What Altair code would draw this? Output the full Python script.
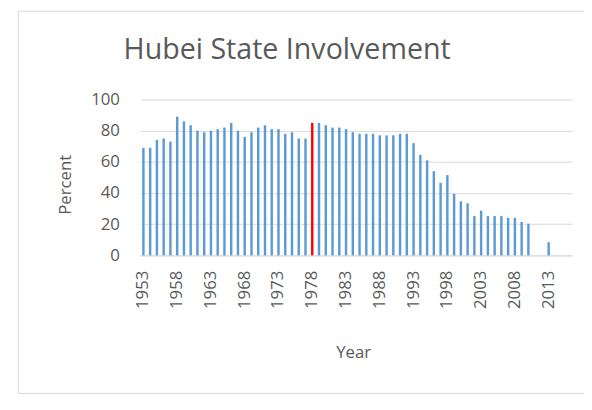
import altair as alt
import pandas as pd

years = [1953, 1954, 1955, 1956, 1957, 1958, 1959, 1960, 1961, 1962,
         1963, 1964, 1965, 1966, 1967, 1968, 1969, 1970, 1971, 1972,
         1973, 1974, 1975, 1976, 1977, 1978, 1979, 1980, 1981, 1982,
         1983, 1984, 1985, 1986, 1987, 1988, 1989, 1990, 1991, 1992,
         1993, 1994, 1995, 1996, 1997, 1998, 1999, 2000, 2001, 2002,
         2003, 2004, 2005, 2006, 2007, 2008, 2009, 2010, 2011, 2012,
         2013, 2014, 2015, 2016]
percent = [69, 69, 74, 75, 73, 89, 86, 83.5, 80, 79,
           80, 81, 82, 85, 80, 76, 79, 82, 83.5, 81,
           81, 78, 79, 75, 75, 85, 85, 83.5, 82, 82,
           81, 79, 78, 78, 78, 77, 77, 77, 78, 78,
           72, 64.5, 61, 54, 46.5, 51.5, 39.5, 34.7, 33.4, 25.2,
           28.7, 25.2, 25.2, 25.2, 24.1, 24.1, 21.4, 20.3, None, None,
           8.4, None, None, None]
label_years = [1953, 1958, 1963, 1968, 1973, 1978, 1983, 1988, 1993, 1998, 2003, 2008, 2013]
highlight_year = 1978

df = pd.DataFrame({"Year": years, "Percent": percent})

FONT = "Open Sans"
GREY = "#595959"

bars = alt.Chart(df).mark_bar().encode(
    x=alt.X("Year:O",
            scale=alt.Scale(domain=years, paddingInner=0.64, paddingOuter=0.3),
            axis=alt.Axis(values=label_years, labelAngle=-90, labelAlign="right",
                          labelBaseline="middle", labelPadding=15, ticks=False,
                          domainColor="#d9d9d9", labelColor=GREY, labelFontSize=17,
                          labelFont=FONT, title="Year", titleFont=FONT,
                          titleFontSize=17, titleFontWeight="normal", titleColor=GREY,
                          titleX=216, titleY=104, titleBaseline="alphabetic",
                          titleAlign="center", grid=False)),
    y=alt.Y("Percent:Q",
            scale=alt.Scale(domain=[0, 100], nice=False),
            axis=alt.Axis(values=[0, 20, 40, 60, 80, 100], domain=False, ticks=False,
                          labelPadding=21, labelColor=GREY, labelFontSize=17,
                          labelFont=FONT, gridColor="#d9d9d9", title="Percent",
                          titleFont=FONT, titleFontSize=17, titleFontWeight="normal",
                          titleColor=GREY, titleX=-76, titleY=86,
                          titleBaseline="middle", titleAlign="center", titleAngle=-90)),
    color=alt.condition(alt.datum.Year == highlight_year,
                        alt.value("#ff0000"), alt.value("#5b9bd5")),
)

frame = alt.Chart(alt.Data(values=[{}])).mark_rect(
    fill="transparent", stroke="#d9d9d9", strokeWidth=1
).encode(
    x=alt.value(-123.5), x2=alt.value(470),
    y=alt.value(-89.5), y2=alt.value(298),
)

chart = alt.layer(frame, bars).properties(
    width=438,
    height=158,
    autosize=alt.AutoSizeParams(type="none"),
    padding={"left": 134, "top": 90, "right": 12, "bottom": 154},
    title=alt.TitleParams("Hubei State Involvement", font=FONT, fontSize=29,
                          fontWeight="normal", color=GREY, anchor="middle",
                          frame="group", baseline="alphabetic", offset=-78, dx=-70),
).configure_view(stroke=None)

chart.save("out.html", embed_options={"renderer": "svg", "actions": False})
